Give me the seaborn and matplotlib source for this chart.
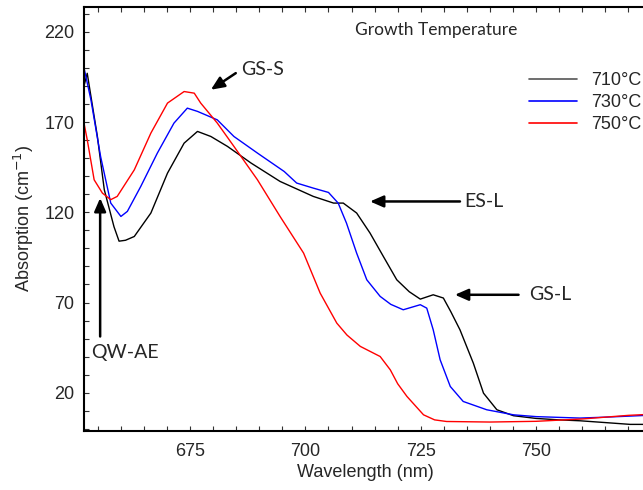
import numpy as np
import pandas as pd
import matplotlib
matplotlib.use("Agg")
import matplotlib.pyplot as plt
import seaborn as sns
from matplotlib.ticker import MultipleLocator
from matplotlib.lines import Line2D

# ---- data ----
labels = ["710\u00b0C", "730\u00b0C", "750\u00b0C"]
colors = ["black", "#0000ff", "#ff0000"]

wl_710 = [652.0, 652.7, 654.9, 656.4, 658.5, 659.6, 661.0, 662.9, 666.5, 670.1, 673.7, 676.6,
          679.5, 683.1, 688.2, 694.5, 701.7, 706.1, 708.2, 711.1, 714.0, 716.9, 719.8, 722.5,
          724.9, 727.7, 729.9, 731.5, 733.5, 736.4, 738.6, 741.5, 745.1, 750, 755, 759.5, 765,
          770.4, 774]
ab_710 = [190, 197, 162, 132.5, 112, 104, 104.5, 106.6, 119.6, 141.7, 158.3, 164.8,
          162, 156.5, 147.3, 137.1, 128.8, 125.1, 125.1, 119.6, 108.5, 95.5, 82.6, 76,
          71.9, 74.3, 72.5, 65, 54.9, 36.4, 19.8, 10.6, 7.3, 5.8, 5.0, 4.5, 3.5,
          2.5, 2.5]

wl_730 = [652.0, 653.5, 655.6, 657.8, 660.0, 661.4, 664.3, 667.9, 671.5, 674.4, 676.6, 680.9,
          684.5, 689.6, 695.4, 698.1, 701.7, 705.0, 707.1, 708.9, 711.1, 713.3, 716.2, 718.5,
          721.2, 724.9, 726.3, 727.7, 729.2, 731.4, 734.2, 739.3, 745.1, 750, 759.5, 765, 774]
ab_730 = [200, 182.3, 150.9, 125.1, 117.7, 120.5, 134.3, 152.8, 169.4, 177.7, 175.9, 171.2,
          162, 152.8, 142.6, 136.2, 133.4, 131, 125.1, 114, 97.4, 82.6, 73.4, 69,
          66, 68.8, 66.9, 54.9, 38.3, 23.5, 15.2, 10.6, 7.8, 6.8, 6, 6.5, 7.5]

wl_750 = [652.0, 652.7, 654.2, 656.0, 657.8, 659.2, 662.9, 666.5, 670.1, 673.7, 675.9, 677.3,
          680.9, 684.5, 689.6, 694.5, 699.6, 703.2, 706.8, 709.0, 711.9, 716.2, 718.4, 720.0,
          722.0, 725.6, 728.0, 730.6, 740, 750, 760, 765, 770, 774]
ab_750 = [169.4, 160.2, 138, 130.6, 127, 128.8, 143.5, 163.9, 180.5, 186.9, 186, 180.5,
          169.4, 156.5, 138, 117.7, 97.4, 75.2, 58.6, 52, 45.7, 40.1, 32.7, 25,
          18, 7.8, 5, 4.1, 3.8, 4.2, 5.5, 6.5, 7.5, 8]

xticks = [675, 700, 725, 750]
yticks = [20, 70, 120, 170, 220]

frames = []
for lab, wl, ab in zip(labels, [wl_710, wl_730, wl_750], [ab_710, ab_730, ab_750]):
    frames.append(pd.DataFrame({"Wavelength": wl, "Absorption": ab, "T": lab}))
df = pd.concat(frames, ignore_index=True)

sns.set_style("white")
plt.rcParams["font.family"] = ["Liberation Sans", "DejaVu Sans"]

W, H = 643, 490
fig = plt.figure(figsize=(W / 100, H / 100), dpi=100)
ax = fig.add_axes([84 / W, (H - 430.7) / H, 562.8 / W, 424 / H])

sns.lineplot(data=df, x="Wavelength", y="Absorption", hue="T", palette=colors,
             sort=False, estimator=None, linewidth=1.0, ax=ax, legend=False)

ax.set_xlim(652, 774)
ax.set_ylim(-1, 233.9)
ax.set_xticks(xticks)
ax.set_yticks(yticks)
ax.xaxis.set_minor_locator(MultipleLocator(5))
ax.yaxis.set_minor_locator(MultipleLocator(10))
ax.tick_params(which="both", direction="in", bottom=True, left=True, top=True, right=False,
               length=3.5, width=0.8, labelsize=13, color="#333333")
ax.tick_params(axis="x", pad=9)
ax.tick_params(axis="y", pad=7)
for s in ax.spines.values():
    s.set_linewidth(1.5)
    s.set_color("black")

ax.set_xlabel("Wavelength (nm)", fontsize=13, labelpad=3)
ax.set_ylabel("Absorption (cm$^{-1}$)", fontsize=13, labelpad=6)

# legend
handles = [Line2D([], [], color=c, lw=1.2) for c in ["#555555", colors[1], colors[2]]]
leg = ax.legend(handles, labels, loc="upper left", bbox_to_anchor=(528.7 / W, (H - 72) / H),
                bbox_transform=fig.transFigure, frameon=False, fontsize=13,
                handlelength=2.7, handletextpad=0.75, labelspacing=0.28,
                borderaxespad=0, borderpad=0)

ann_font = ["Lato", "DejaVu Sans"]
fig.text(355 / W, (H - 30) / H, "Growth Temperature", fontsize=12.5, family=ann_font,
         ha="left", va="center")

arrow = dict(arrowstyle="-|>,head_length=0.8,head_width=0.35", color="black", lw=1.8,
             shrinkA=0, shrinkB=0)
# GS-S
ax.annotate("", xy=(679.5, 187.9), xytext=(684.9, 197.1), arrowprops=arrow)
ax.text(686.0, 199, "GS-S", fontsize=14, family=ann_font, ha="left", va="center")
# ES-L
ax.annotate("", xy=(714.0, 126), xytext=(733.5, 126), arrowprops=arrow)
ax.text(734.5, 126, "ES-L", fontsize=14, family=ann_font, ha="left", va="center")
# GS-L
ax.annotate("", xy=(732.4, 74.3), xytext=(746.2, 74.3), arrowprops=arrow)
ax.text(748.5, 74.3, "GS-L", fontsize=14, family=ann_font, ha="left", va="center")
# QW-AE
ax.annotate("", xy=(655.5, 127.9), xytext=(655.5, 51.2), arrowprops=arrow)
ax.text(653.6, 42.2, "QW-AE", fontsize=14, family=ann_font, ha="left", va="center")

fig.savefig("out.png", dpi=100)
